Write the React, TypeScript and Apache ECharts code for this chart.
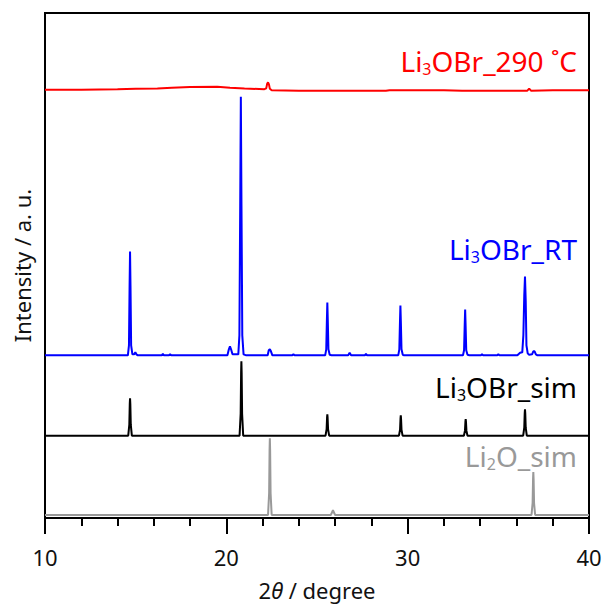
import React, { useEffect, useRef } from "react";
import * as echarts from "echarts";

// 2θ range and tick labels
const xMin = 10;
const xMax = 40;
const xTicks = [10, 20, 30, 40];

// vertical offsets (a.u.) of each pattern's baseline
const offsetRed = 429;
const offsetBlue = 163;
const offsetBlack = 82.5;
const offsetGrey = 3;

// Li3OBr after 290 °C  [2θ, intensity]
const red290: [number, number][] = [
  [10, 0], [12, 0.2], [14, 0.5], [15, 1], [16.2, 1.3], [17, 2], [18, 2.8], [19.5, 3], [20.2, 2], [21, 1.3],
  [22.1, 0.7], [22.2, 1.5], [22.25, 6], [22.3, 7.5], [22.35, 5.5], [22.4, 1], [22.5, -0.5], [24, -1],
  [28.8, -1], [29, -0.5], [32, -0.5], [33, -0.8], [36.6, -0.8], [36.65, 0.2], [36.7, 1.2], [36.75, 0.2],
  [36.8, -0.8], [38, -0.5], [40, -0.3],
];

// Li3OBr RT
const blueRT: [number, number][] = [
  [10, 0], [14.57, 0], [14.63, 10], [14.665, 70], [14.69, 104], [14.715, 70], [14.75, 10], [14.82, 1],
  [14.92, 1], [14.98, 3], [15.04, 1], [15.12, 0],
  [16.44, 0], [16.5, 1.5], [16.56, 0], [16.84, 0], [16.9, 1], [16.96, 0],
  [20.06, 0], [20.14, 6], [20.2, 9], [20.26, 6], [20.34, 1], [20.66, 1], [20.72, 20], [20.765, 150],
  [20.8, 259], [20.835, 150], [20.88, 20], [20.95, 1], [21.1, 0],
  [22.28, 0], [22.34, 5], [22.4, 6], [22.46, 4], [22.54, 0],
  [23.64, 0], [23.7, 1], [23.76, 0],
  [25.45, 0], [25.51, 6], [25.545, 35], [25.57, 53], [25.595, 35], [25.63, 6], [25.7, 0.5], [25.8, 0],
  [26.72, 0], [26.8, 2.5], [26.88, 0],
  [27.64, 0], [27.7, 1.5], [27.76, 0],
  [29.48, 0], [29.54, 6], [29.575, 33], [29.6, 50], [29.625, 33], [29.66, 6], [29.73, 0.5], [29.8, 0],
  [33.05, 0], [33.11, 5], [33.145, 30], [33.17, 46], [33.195, 30], [33.23, 5], [33.3, 0.5], [33.4, 0],
  [34.04, 0], [34.1, 1.2], [34.16, 0],
  [34.94, 0], [35.0, 1.2], [35.06, 0],
  [36.05, 0], [36.2, 2.5], [36.32, 3], [36.38, 20], [36.43, 60], [36.47, 79], [36.51, 55], [36.55, 10],
  [36.62, 2], [36.7, 0.5],
  [36.86, 1], [36.93, 4], [37.0, 4], [37.07, 1], [37.16, 0],
  [40, 0],
];

// Li3OBr simulated
const blackSim: [number, number][] = [
  [10, 0],
  [14.59, 0], [14.65, 11], [14.675, 32], [14.69, 37.5], [14.705, 32], [14.73, 11], [14.79, 0],
  [20.73, 0], [20.79, 22], [20.815, 63], [20.83, 74.5], [20.845, 63], [20.87, 22], [20.93, 0],
  [25.47, 0], [25.53, 6.5], [25.555, 18], [25.57, 21.5], [25.585, 18], [25.61, 6.5], [25.67, 0],
  [29.52, 0], [29.58, 6], [29.605, 17], [29.62, 20.5], [29.635, 17], [29.66, 6], [29.72, 0],
  [33.1, 0], [33.16, 5], [33.185, 14], [33.2, 16.5], [33.215, 14], [33.24, 5], [33.3, 0],
  [36.37, 0], [36.43, 8], [36.455, 22.5], [36.47, 26.5], [36.485, 22.5], [36.51, 8], [36.57, 0],
  [40, 0],
];

// Li2O simulated
const greySim: [number, number][] = [
  [10, 0],
  [22.3, 0], [22.36, 22], [22.385, 65], [22.4, 77], [22.415, 65], [22.44, 22], [22.5, 0],
  [25.76, 0], [25.84, 3], [25.88, 5], [25.92, 3], [26, 0],
  [36.83, 0], [36.89, 12], [36.915, 36], [36.93, 43], [36.945, 36], [36.97, 12], [37.03, 0],
  [40, 0],
];

const FONT = "'Noto Sans', 'DejaVu Sans', sans-serif";

function shift(data: [number, number][], off: number) {
  return data.map(([x, y]) => [x, y + off]);
}

function label(x: number, y: number, parts: [string, string, string], color: string) {
  return {
    type: "text",
    x,
    y,
    silent: true,
    style: {
      text: `{n|${parts[0]}}{s|${parts[1]}}{n|${parts[2]}}`,
      align: "right",
      verticalAlign: "middle",
      fill: color,
      rich: {
        n: { fontSize: 28, fontFamily: FONT, fill: color, color, lineHeight: 32 },
        s: { fontSize: 16, fontFamily: FONT, fill: color, color, verticalAlign: "bottom", lineHeight: 24 },
      },
    },
  };
}

export default function App() {
  const ref = useRef<HTMLDivElement>(null);
  useEffect(() => {
    if (!ref.current) return;
    const chart = echarts.init(ref.current, null, { renderer: "svg" });
    const lineSeries = (name: string, data: [number, number][], off: number, color: string) => ({
      name,
      type: "line",
      data: shift(data, off),
      showSymbol: false,
      symbol: "none",
      smooth: false,
      lineStyle: { color, width: 2 },
      emphasis: { disabled: true },
    });
    chart.setOption({
      animation: false,
      textStyle: { fontFamily: FONT },
      grid: {
        left: 45,
        right: 23,
        top: 13,
        bottom: 87,
        show: true,
        borderColor: "#000",
        borderWidth: 2,
        backgroundColor: "transparent",
      },
      xAxis: {
        type: "value",
        min: xMin,
        max: xMax,
        interval: 10,
        name: "2{i|θ} / degree",
        nameLocation: "middle",
        nameGap: 61,
        nameTextStyle: {
          fontSize: 22,
          color: "#111",
          fontFamily: FONT,
          rich: { i: { fontStyle: "italic", fontSize: 22, color: "#111", fontFamily: FONT } },
        },
        axisLine: { show: true, lineStyle: { color: "#000", width: 2 } },
        axisTick: { show: true, inside: false, length: 16, lineStyle: { color: "#000", width: 2 } },
        minorTick: { show: true, splitNumber: 5, length: 8, lineStyle: { color: "#000", width: 2 } },
        splitLine: { show: false },
        minorSplitLine: { show: false },
        axisLabel: {
          fontSize: 22,
          color: "#111",
          margin: 28,
          fontFamily: FONT,
          formatter: (v: number) => (xTicks.includes(v) ? String(v) : ""),
        },
      },
      yAxis: {
        type: "value",
        min: 0,
        max: 506,
        name: "Intensity / a. u.",
        nameLocation: "middle",
        nameGap: 12,
        nameTextStyle: { fontSize: 22, color: "#111", fontFamily: FONT },
        axisLine: { show: true, lineStyle: { color: "#000", width: 2 } },
        axisTick: { show: false },
        axisLabel: { show: false },
        splitLine: { show: false },
      },
      series: [
        lineSeries("Li2O_sim", greySim, offsetGrey, "#999999"),
        lineSeries("Li3OBr_sim", blackSim, offsetBlack, "#000000"),
        lineSeries("Li3OBr_RT", blueRT, offsetBlue, "#0000ff"),
        lineSeries("Li3OBr_290 °C", red290, offsetRed, "#ff0000"),
      ],
      graphic: [
        label(577, 61, ["Li", "3", "OBr_290 ˚C"], "#ff0000"),
        label(577, 249, ["Li", "3", "OBr_RT"], "#0000ff"),
        label(577, 387, ["Li", "3", "OBr_sim"], "#000000"),
        label(577, 456, ["Li", "2", "O_sim"], "#999999"),
      ],
    });
    return () => chart.dispose();
  }, []);
  return (
    <div
      ref={ref}
      style={{ position: "fixed", left: 0, top: 0, width: 612, height: 606, background: "#fff" }}
    />
  );
}
